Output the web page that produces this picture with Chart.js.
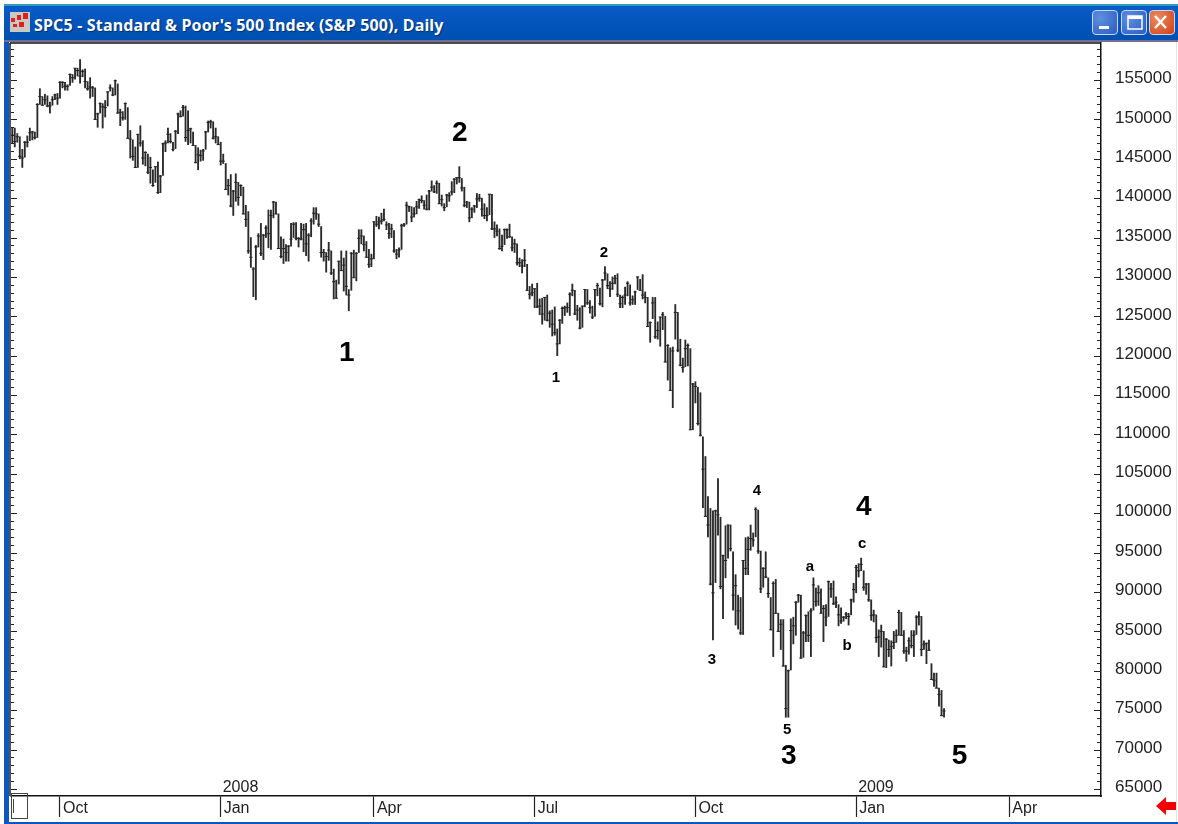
<!DOCTYPE html>
<html><head><meta charset="utf-8"><title>SPC5</title>
<script src="https://cdn.jsdelivr.net/npm/chart.js@4"></script>
<style>
html,body{margin:0;padding:0;background:#fff;width:1178px;height:824px;overflow:hidden}
#win{position:absolute;left:4px;top:4px;width:1174px;height:820px;background:#0a57c0}
#teal{position:absolute;left:0;top:0;width:100%;height:2px;background:#2f9cbd}
#bar{position:absolute;left:0;top:2px;width:100%;height:34px;background:linear-gradient(#0a5cc8,#0456bd 40%,#0050b0)}
#sep{position:absolute;left:0;top:36px;width:100%;height:2px;background:#6f6f9c}
#title{position:absolute;left:30px;top:10px;color:#fff;font:bold 16px "Noto Sans",sans-serif;letter-spacing:.17px;white-space:nowrap;text-shadow:1px 1px 1px #02306e}
canvas{position:absolute;left:0;top:0;filter:blur(.4px)}
.btn{position:absolute;top:10px;height:25px;width:26px;border-radius:4px;border:1px solid #c8d8f4;box-sizing:border-box}
svg{position:absolute}
</style></head>
<body>
<div id="win"><div id="teal"></div><div id="bar"></div><div id="sep"></div>
<div id="title">SPC5 - Standard &amp; Poor's 500 Index (S&amp;P 500), Daily</div></div>
<div style="position:absolute;left:9px;top:42px;width:1169px;height:780px;background:#fff"></div>
<div style="position:absolute;left:1176px;top:42px;width:1px;height:780px;background:#e4e4e4"></div>
<svg style="left:10px;top:12px" width="20" height="20"><rect width="20" height="20" fill="#c9c9c4"/><path d="M1 6h4v4H1zM7 3h4v5H7zM13 1h5v6h-5zM9 10h5v5H9zM3 12h4v3H3z" fill="#e0201a"/></svg>
<div class="btn" style="left:1092px;background:radial-gradient(circle at 30% 30%,#5f8fe0,#2a5cc0)"></div>
<div class="btn" style="left:1121px;background:radial-gradient(circle at 30% 30%,#5f8fe0,#2a5cc0)"></div>
<div class="btn" style="left:1149px;background:radial-gradient(circle at 30% 30%,#ee8a60,#cf3f14)"></div>
<svg style="left:1092px;top:10px" width="84" height="25"><rect x="7" y="16" width="10" height="3" fill="#fff"/><rect x="36" y="6" width="14" height="13" fill="none" stroke="#fff" stroke-width="1.5"/><rect x="36" y="6" width="14" height="3" fill="#fff"/><path d="M63 6l11 12M74 6L63 18" stroke="#fff" stroke-width="2.4"/></svg>
<canvas id="c" width="1178" height="824" style="z-index:1"></canvas>
<svg style="left:1155px;top:796px;z-index:2" width="22" height="20"><path d="M1 10L11 1V6H21V14H11V19Z" fill="#f00000"/></svg>
<script>
const SCALE = 100;
const barSlots = 434;
const tickIndexes = [19,83,144,208,272,336,397];
const tickLabels = ['Oct','Jan','Apr','Jul','Oct','Jan','Apr'];
const yearIndexes = [83,336];
const yearLabels = ['2008','2009'];

const highs = [
 1489,1489,1482,1478,1462,1472,1479,1489,1485,1484,1520,1539,1529,1532,1530,1522,1529,1532,1533,
 1548,1548,1547,1544,1558,1557,1565,1565,1576,1563,1564,1548,1553,1542,1540,1508,1521,1520,1524,1535,1544,1540,1550,
 1545,1513,1510,1521,1515,1486,1474,1465,1481,1492,1473,1459,1456,1452,1436,1440,1446,1429,1470,1473,1489,
 1482,1471,1486,1508,1511,1518,1517,1511,1489,1484,1467,1464,1461,1462,1485,1498,1499,1497,1489,1478,
 1471,1456,1444,1424,1430,1410,1431,1420,1417,1414,1391,1383,1350,1312,1340,1355,1368,1354,1365,1385,1385,
 1396,1395,1380,1351,1348,1341,1340,1368,1369,1369,1350,1368,1367,1368,1355,1374,1388,1388,1380,1364,
 1335,1331,1344,1333,1310,1296,1320,1333,1324,1333,1284,1331,1334,1331,1360,1360,1352,1345,1335,1329,
 1370,1377,1376,1381,1386,1370,1368,1367,1359,1335,1337,1367,1368,1395,1390,1389,1388,1396,1399,1403,1397,1404,
 1410,1422,1416,1422,1419,1404,1393,1405,1407,1421,1425,1426,1440,1425,1414,1396,1395,1388,1391,1406,1405,
 1400,1393,1388,1405,1405,1370,1366,1361,1353,1361,1361,1367,1351,1348,1342,1324,1322,1335,1316,1288,1291,
 1285,1292,1272,1273,1274,1277,1257,1258,1262,1234,1246,1262,1263,1267,1280,1291,1283,1264,1261,1263,1284,1284,
 1270,1263,1284,1292,1286,1297,1313,1304,1294,1300,1302,1304,1277,1276,1287,1294,1290,1276,1282,1300,1297,
 1303,1281,1274,1243,1274,1274,1243,1249,1255,1250,1214,1210,1211,1265,1255,1221,1197,1220,1215,1209,1165,
 1167,1160,1153,1097,1072,1021,1006,1003,1004,1044,995,947,984,985,985,951,922,896,893,940,969,970,985,
 975,1007,1004,952,931,951,918,893,913,916,873,865,865,807,801,866,868,888,897,
 896,850,871,875,879,918,905,908,904,883,884,914,911,914,894,884,880,869,874,873,891,911,
 934,936,943,927,911,911,890,877,871,852,858,850,841,839,838,850,852,877,874,851,
 830,842,851,851,870,875,869,838,835,839,809,797,797,778,775,752
];
const lows = [
 1470,1465,1471,1450,1439,1452,1465,1473,1474,1475,1477,1519,1518,1519,1516,1508,1518,1525,1519,
 1527,1540,1537,1537,1543,1547,1551,1555,1546,1554,1540,1537,1527,1529,1500,1490,1508,1489,1503,1517,1536,1530,1531,
 1508,1492,1499,1500,1476,1451,1448,1439,1439,1466,1443,1441,1431,1419,1415,1420,1406,1407,1429,1459,1470,
 1470,1460,1463,1482,1503,1504,1472,1468,1470,1467,1445,1436,1447,1448,1462,1484,1489,1475,1470,1468,
 1442,1444,1411,1404,1389,1378,1396,1391,1403,1380,1364,1330,1312,1275,1271,1338,1327,1322,1350,1337,1335,
 1375,1380,1336,1324,1317,1320,1320,1339,1350,1347,1338,1347,1332,1327,1320,1351,1367,1373,1364,1325,
 1320,1306,1321,1303,1272,1273,1291,1308,1282,1277,1257,1283,1299,1295,1331,1342,1333,1325,1312,1313,
 1323,1364,1361,1367,1371,1360,1349,1350,1331,1323,1325,1335,1364,1367,1383,1370,1376,1380,1387,1394,1386,1385,
 1385,1409,1407,1406,1393,1390,1384,1389,1396,1404,1407,1418,1420,1409,1389,1388,1370,1375,1382,1388,1396,
 1377,1374,1371,1379,1360,1350,1352,1335,1333,1341,1349,1350,1333,1331,1315,1313,1305,1313,1283,1272,1276,
 1261,1261,1252,1240,1245,1244,1236,1225,1226,1200,1215,1241,1251,1255,1251,1276,1252,1245,1234,1236,1262,1265,
 1254,1247,1250,1276,1264,1262,1296,1285,1275,1284,1291,1275,1261,1261,1265,1276,1264,1265,1265,1284,1283,
 1272,1267,1237,1217,1247,1222,1221,1212,1233,1192,1169,1156,1134,1221,1205,1187,1179,1186,1187,1106,1106,
 1140,1112,1098,1007,996,970,909,839,912,972,904,866,918,943,952,877,858,853,846,846,922,922,953,
 958,970,949,899,906,918,893,852,818,873,850,827,806,741,741,801,834,845,887,
 816,817,837,837,818,877,882,883,873,837,857,869,893,884,880,857,860,863,866,858,871,887,
 899,919,927,902,897,888,864,862,836,818,830,805,804,818,806,828,836,845,845,822,
 812,821,829,818,846,858,819,827,809,826,789,780,778,755,743,741
];
const closes = [
 1480,1472,1478,1453,1451,1471,1471,1483,1484,1477,1519,1529,1518,1525,1517,1517,1525,1531,1527,
 1547,1547,1542,1542,1557,1553,1565,1562,1555,1561,1548,1539,1541,1540,1500,1507,1520,1516,1515,1535,1540,1531,1549,
 1508,1509,1502,1520,1476,1475,1453,1439,1481,1470,1451,1458,1433,1439,1416,1440,1407,1428,1469,1470,1481,
 1472,1462,1485,1507,1504,1515,1477,1486,1488,1467,1445,1455,1454,1460,1484,1496,1497,1476,1478,1468,
 1447,1447,1411,1416,1390,1409,1420,1401,1416,1380,1373,1333,1325,1310,1338,1352,1330,1353,1362,1355,1378,
 1395,1380,1336,1326,1336,1331,1339,1348,1367,1349,1349,1348,1360,1342,1353,1371,1381,1380,1367,1331,
 1331,1326,1334,1305,1294,1273,1320,1308,1315,1288,1277,1330,1299,1330,1349,1352,1341,1325,1316,1323,
 1370,1367,1370,1371,1373,1366,1355,1361,1333,1329,1334,1365,1366,1391,1389,1376,1380,1389,1398,1397,1391,1386,
 1409,1414,1408,1419,1393,1398,1388,1404,1403,1408,1424,1426,1426,1413,1391,1395,1375,1386,1390,1399,1400,
 1386,1378,1378,1405,1361,1361,1358,1336,1339,1360,1360,1351,1337,1342,1318,1318,1314,1321,1283,1278,1280,
 1285,1262,1263,1253,1274,1245,1254,1240,1229,1215,1245,1260,1261,1261,1278,1283,1253,1258,1235,1263,1284,1267,
 1261,1249,1284,1289,1266,1296,1305,1289,1285,1292,1298,1278,1266,1274,1277,1292,1267,1271,1281,1300,1283,
 1277,1274,1237,1242,1267,1224,1232,1249,1252,1192,1213,1156,1206,1255,1207,1188,1185,1209,1213,1106,1164,
 1161,1114,1099,1056,996,985,910,899,1003,998,907,946,940,985,955,896,908,876,848,940,930,954,968,
 966,1005,952,904,930,919,898,852,911,873,850,859,806,752,800,851,857,887,896,
 816,848,870,845,876,909,888,899,873,879,868,913,904,885,887,871,863,868,872,869,890,903,
 931,927,935,906,910,890,870,871,842,843,850,805,840,827,831,836,845,874,845,825,
 825,838,832,845,868,869,827,833,835,826,789,788,778,770,743,749
];
const bigWaveText = ['1','2','3','4','5'];
const bigWaveIdx = [133.2,178.2,309.2,339,377.2];
const bigWaveVal = [120300,148200,69200,100700,69200];
const smallWaveText = ['1','2','3','4','5','a','b','c'];
const smallWaveIdx = [216.5,235.6,278.6,296.5,308.5,317.6,332.4,338.4];
const smallWaveVal = [117200,133100,81400,102900,72500,93200,83200,96100];
const yTickFirst = 65000, yTickLast = 159000, yTickStep = 1000;

const categories = Array.from({length:barSlots},(_,i)=>i);
const FONT = '"Liberation Sans", Arial, sans-serif';

const decor = {
  id:'decor',
  afterDatasetsDraw(chart){
    const {ctx,chartArea:a,scales:{x,y}} = chart;
    ctx.save();
    ctx.strokeStyle='#555';ctx.lineWidth=2;
    ctx.beginPath();ctx.moveTo(a.left-1,a.bottom);ctx.lineTo(a.left-1,a.top);ctx.stroke();
    ctx.strokeStyle='#111';ctx.lineWidth=1.5;
    ctx.beginPath();ctx.moveTo(a.left-1,a.top);ctx.lineTo(a.right,a.top);ctx.stroke();
    ctx.lineWidth=1;ctx.strokeStyle='#222';
    y.ticks.forEach(t=>{
      const p=Math.round(y.getPixelForValue(t.value))+.5, major=t.value%5000===0;
      ctx.beginPath();
      ctx.moveTo(a.left,p);ctx.lineTo(a.left+(major?6:3),p);
      ctx.moveTo(a.right,p);ctx.lineTo(a.right-(major?7:4),p);
      ctx.stroke();
    });
    ctx.fillStyle='#222';ctx.font='16px '+FONT;ctx.textAlign='left';ctx.textBaseline='middle';
    yearLabels.forEach((s,i)=>{ctx.fillText(s,x.getPixelForValue(yearIndexes[i])+2,788);});
    ctx.fillStyle='#000';ctx.textAlign='center';
    ctx.font='bold 28px '+FONT;
    bigWaveText.forEach((s,i)=>ctx.fillText(s,x.getPixelForValue(bigWaveIdx[i]),y.getPixelForValue(bigWaveVal[i])));
    ctx.font='bold 15px '+FONT;
    smallWaveText.forEach((s,i)=>ctx.fillText(s,x.getPixelForValue(smallWaveIdx[i]),y.getPixelForValue(smallWaveVal[i])));
    ctx.strokeStyle='#444';ctx.lineWidth=1;
    ctx.strokeRect(11.5,793.5,16,25);
    ctx.beginPath();ctx.moveTo(13.5,799);ctx.lineTo(13.5,813);ctx.stroke();
    ctx.restore();
  }
};

new Chart(document.getElementById('c'),{
  type:'bar',
  plugins:[decor],
  data:{labels:categories,datasets:[
    {type:'bar',data:highs.map((h,i)=>[lows[i]*SCALE,h*SCALE]),backgroundColor:'#2a2a2a',barThickness:1.2,borderSkipped:false,order:2},
    {type:'line',data:closes.map(c=>c*SCALE),showLine:false,pointStyle:'line',pointRadius:1.6,pointBorderWidth:1,pointBorderColor:'#222',pointBackgroundColor:'#222',order:1}
  ]},
  options:{
    responsive:false,animation:false,devicePixelRatio:1,
    layout:{padding:{left:11,top:43,right:0,bottom:0}},
    plugins:{legend:{display:false},tooltip:{enabled:false}},
    scales:{
      x:{type:'category',offset:true,
        afterFit(s){s.height=28;},
        border:{display:true,color:'#111',width:1.5},
        grid:{offset:false,drawOnChartArea:false,drawTicks:true,tickLength:21,
          tickColor:c=>'#222',tickWidth:c=>tickIndexes.includes(c.index)?1.2:0},
        ticks:{autoSkip:false,maxRotation:0,minRotation:0,align:'start',padding:-18,labelOffset:3,color:'#222',font:{family:FONT,size:16},
          callback(v,i){const k=tickIndexes.indexOf(i);return k<0?'':tickLabels[k];}}
      },
      y:{position:'right',min:64100,max:159700,
        afterFit(s){s.width=77;},
        afterBuildTicks(s){const t=[];for(let v=yTickFirst;v<=yTickLast;v+=yTickStep)t.push({value:v});s.ticks=t;},
        border:{display:true,color:'#111',width:1.5},
        grid:{display:true,drawOnChartArea:false,drawTicks:false},
        ticks:{autoSkip:false,padding:14,labelOffset:-1.5,color:'#222',font:{family:FONT,size:17},
          callback(v){return v%5000===0&&v<=155000?String(v):'';}}
      }
    }
  }
});
</script>
</body></html>
